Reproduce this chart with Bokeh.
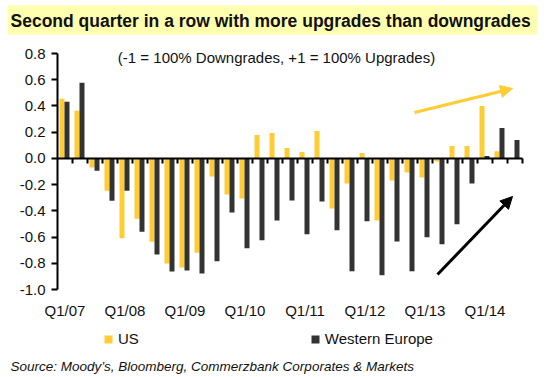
import math
from bokeh.plotting import figure
from bokeh.models import (Range1d, FixedTicker, PrintfTickFormatter, Label, BoxAnnotation,
                          Legend, LegendItem, Arrow, NormalHead, ColumnDataSource, LinearAxis)
from bokeh.transform import dodge
from bokeh.embed import file_html
from bokeh.resources import INLINE

# ---------------- data ----------------
quarters = ["Q1/07", "Q2/07", "Q3/07", "Q4/07", "Q1/08", "Q2/08", "Q3/08", "Q4/08",
            "Q1/09", "Q2/09", "Q3/09", "Q4/09", "Q1/10", "Q2/10", "Q3/10", "Q4/10",
            "Q1/11", "Q2/11", "Q3/11", "Q4/11", "Q1/12", "Q2/12", "Q3/12", "Q4/12",
            "Q1/13", "Q2/13", "Q3/13", "Q4/13", "Q1/14", "Q2/14", "Q3/14"]
us = [0.455, 0.364, -0.070, -0.247, -0.610, -0.460, -0.635, -0.802,
      -0.833, -0.719, -0.138, -0.275, -0.305, 0.179, 0.194, 0.080,
      0.049, 0.209, -0.382, -0.191, 0.042, -0.473, -0.169, -0.108,
      -0.146, -0.024, 0.095, 0.095, 0.399, 0.055, float("nan")]
western_europe = [0.432, 0.576, -0.095, -0.323, -0.247, -0.559, -0.734, -0.863,
                  -0.855, -0.878, -0.785, -0.412, -0.686, -0.625, -0.473, -0.321,
                  -0.579, -0.328, -0.549, -0.861, -0.480, -0.891, -0.633, -0.861,
                  -0.602, -0.655, -0.503, -0.191, 0.019, 0.232, 0.141]
tick_labels = ["Q1/07", "Q1/08", "Q1/09", "Q1/10", "Q1/11", "Q1/12", "Q1/13", "Q1/14"]
y_ticks = [-1.0, -0.8, -0.6, -0.4, -0.2, 0.0, 0.2, 0.4, 0.6, 0.8]

title_text = "Second quarter in a row with more upgrades than downgrades"
subtitle_text = "(-1 = 100% Downgrades, +1 = 100% Upgrades)"
source_text = "Source: Moody\u2019s, Bloomberg, Commerzbank Corporates & Markets"

YELLOW = "#FFCC33"
DARK = "#333333"
BAND = "#FFFFB0"
FONT = "Liberation Sans"
TXT = "#111111"

# ---------------- layout ----------------
W, H = 548, 377
FL, FR, FT, FB = 57, 522, 53, 289          # plot area in canvas pixels
n = len(quarters)
X0, X1 = -0.5, n - 0.5                      # category axis extent
Y0, Y1 = y_ticks[0], y_ticks[-1]            # value axis extent
KX = (X1 - X0) / (FR - FL)
KY = (Y1 - Y0) / (FB - FT)


def dx(px):
    return X0 + (px - FL) * KX


def dy(py):
    return Y0 + (FB - py) * KY


idx = list(range(n))
src = ColumnDataSource(dict(idx=idx, quarter=quarters, us=us, we=western_europe))

p = figure(width=W, height=H, x_range=Range1d(dx(0), dx(W)), y_range=Range1d(dy(H), dy(0)),
           output_backend="svg", toolbar_location=None, title=None,
           x_axis_location=None, y_axis_location=None,
           min_border_left=0, min_border_right=0, min_border_top=0, min_border_bottom=0)
p.outline_line_color = None
p.xgrid.visible = False
p.ygrid.visible = False
p.background_fill_color = "white"
p.border_fill_color = "white"

# band behind the title
band = BoxAnnotation(left=dx(7), right=dx(537), top=dy(5), bottom=dy(34),
                     fill_color=BAND, fill_alpha=1.0, line_color=None)
p.add_layout(band)

r_us = p.vbar(x=dodge("idx", -0.2, range=p.x_range), top="us", width=1 / 3,
              source=src, fill_color=YELLOW, line_color=None)
r_we = p.vbar(x=dodge("idx", 0.133, range=p.x_range), top="we", width=1 / 3,
              source=src, fill_color=DARK, line_color=None)

# square legend keys for the same series (zero-size on the plot itself)
key_us = p.scatter(x="idx", y="us", source=src, marker="square", size=0,
                   fill_color=YELLOW, line_color=None)
key_we = p.scatter(x="idx", y="we", source=src, marker="square", size=0,
                   fill_color=DARK, line_color=None)

# zero line with category-boundary ticks
p.segment(x0=[X0], y0=[0], x1=[X1], y1=[0], line_color="black", line_width=2)
bounds = [i + 0.5 for i in idx]
tick_len = 5 * KY
p.segment(x0=bounds, y0=[0] * n, x1=bounds, y1=[-tick_len] * n,
          line_color="black", line_width=2)

# x axis (labels only)
xa = LinearAxis(fixed_location=Y0)
q1_pos = [i for i, q in enumerate(quarters) if q in tick_labels]
xa.ticker = FixedTicker(ticks=q1_pos)
xa.major_label_overrides = {i: quarters[i] for i in q1_pos}
xa.axis_line_color = None
xa.major_tick_line_color = None
xa.minor_tick_line_color = None
xa.major_tick_out = 0
xa.major_tick_in = 0
xa.major_label_standoff = 12
xa.major_label_text_font = FONT
xa.major_label_text_font_size = "15px"
xa.major_label_text_color = TXT
p.add_layout(xa, "below")

# y axis
ya = LinearAxis(fixed_location=X0, bounds=(Y0, Y1))
ya.ticker = FixedTicker(ticks=y_ticks)
ya.formatter = PrintfTickFormatter(format="%.1f")
ya.axis_line_color = "black"
ya.axis_line_width = 2
ya.major_tick_line_color = "black"
ya.major_tick_line_width = 2
ya.major_tick_out = 6
ya.major_tick_in = 0
ya.minor_tick_line_color = None
ya.major_label_standoff = 6
ya.major_label_text_font = FONT
ya.major_label_text_font_size = "15px"
ya.major_label_text_color = TXT
p.add_layout(ya, "left")

# texts
p.add_layout(Label(x=dx(10), y=dy(20), text=title_text, text_font=FONT,
                   text_font_size="17.5px", text_font_style="bold", text_color=TXT,
                   text_align="left", text_baseline="middle"))
p.add_layout(Label(x=dx(276), y=dy(57), text=subtitle_text, text_font=FONT,
                   text_font_size="15px", text_color=TXT,
                   text_align="center", text_baseline="middle"))
p.add_layout(Label(x=dx(10), y=dy(366), text=source_text, text_font=FONT,
                   text_font_size="13.5px", text_font_style="italic", text_color=TXT,
                   text_align="left", text_baseline="middle"))

# arrows
p.add_layout(Arrow(end=NormalHead(size=12, fill_color=YELLOW, line_color=YELLOW),
                   x_start=dx(414), y_start=dy(112), x_end=dx(512), y_end=dy(88),
                   line_color=YELLOW, line_width=3))
p.add_layout(Arrow(end=NormalHead(size=12, fill_color="black", line_color="black"),
                   x_start=dx(437), y_start=dy(274), x_end=dx(512), y_end=dy(196),
                   line_color="black", line_width=3))

# legend
legend = Legend(items=[LegendItem(label="US", renderers=[key_us]),
                       LegendItem(label="Western Europe", renderers=[key_we])],
                orientation="horizontal", location=(98, H - 348.5),
                glyph_width=20, glyph_height=20, label_standoff=0, spacing=166,
                padding=0, margin=0, border_line_color=None,
                background_fill_alpha=0, label_text_font=FONT,
                label_text_font_size="15px", label_text_color=TXT)
p.add_layout(legend)

open("out.html", "w").write(file_html(p, INLINE))
